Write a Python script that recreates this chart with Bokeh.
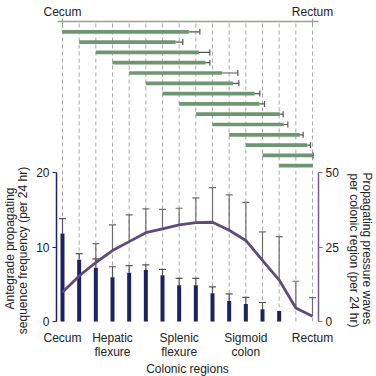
import math
from bokeh.plotting import figure
from bokeh.models import Range1d, LinearAxis, FixedTicker, Label
from bokeh.embed import file_html
from bokeh.resources import INLINE

# ---------------- data ----------------
# 16 recording regions from cecum (0) to rectum (15)
regions = list(range(16))
bottom_tick_pos = [0, 3, 7, 11, 15]
bottom_tick_labels = ["Cecum", "Hepatic\nflexure", "Splenic\nflexure", "Sigmoid\ncolon", "Rectum"]
top_tick_pos = [0, 15]
top_tick_labels = ["Cecum", "Rectum"]
left_ticks = [0, 10, 20]
right_ticks = [0, 25, 50]

# Antegrade propagating sequence frequency (per 24 hr) - bars, left axis
seq_pos = list(range(14))
seq_freq = [11.8, 8.3, 7.2, 5.95, 6.55, 6.9, 6.2, 4.85, 4.85, 3.8, 2.75, 2.35, 1.65, 1.4]
seq_freq_upper = [13.8, 9.1, 8.4, 7.35, 7.5, 7.6, 7.0, 5.8, 5.8, 4.65, 3.7, 3.25, 2.55, 1.4]

# Propagating pressure waves per colonic region (per 24 hr) - line, right axis
waves = [9.8, 15.3, 19.8, 23.8, 26.8, 29.8, 31.1, 32.4, 33.2, 33.3, 30.6, 27.2, 20.5, 13.9, 4.5, 1.8]
waves_upper = [9.8, 15.3, 26.1, 32.4, 35.8, 37.8, 37.6, 38.0, 41.5, 44.9, 42.5, 40.0, 30.1, 28.5, 13.5, 8.0]

# Extent of propagating sequences (top panel): origin region -> mean end region
ext_row = list(range(1, 15))
ext_start = list(range(14))
ext_end = [7.58, 6.78, 8.18, 8.58, 9.58, 10.24, 11.52, 11.82, 13.04, 13.27, 14.24, 14.68, 14.98, 15.0]
ext_end_upper = [8.24, 7.22, 8.84, 8.84, 10.52, 10.58, 11.84, 12.12, 13.24, 13.52, 14.44, 14.88, 15.04, 15.0]

# ---------------- layout (pixels) ----------------
W, H = 376, 376
X0_PX, X_STEP = 62.0, 16.667      # region 0 position, px per region
AX_L_PX, AX_R_PX = 56.0, 318.0    # left / right axis lines
BASE_PX, LEFT_SCALE = 321.0, 7.45 # zero line, px per unit (left axis)
RIGHT_SCALE = LEFT_SCALE * 20 / 50
TOP_PX, ROW_STEP = 21.0, 10.3     # top line, px per sequence row

def xval(px):
    return (px - X0_PX) / X_STEP

def lval(py):
    return (BASE_PX - py) / LEFT_SCALE

def rval(py):
    return (BASE_PX - py) / RIGHT_SCALE

def rowval(py):
    return (py - TOP_PX) / ROW_STEP

# ---------------- styles ----------------
FONT = "Liberation Sans"
TXT = "#222222"
NAVY = "#1c2263"
PURPLE = "#5e4b7e"
PURPLE_AX = "#6f5f8f"
GREEN = "#6f9672"
GREEN_AX = "#8ea58e"
ERR = "#555555"
ERR2 = "#6e6e6e"
DASH = "#a6a6a6"

p = figure(width=W, height=H, output_backend="svg", toolbar_location=None,
           x_axis_type=None, y_axis_type=None,
           x_range=Range1d(xval(0), xval(W)), y_range=Range1d(lval(H), lval(0)),
           min_border=0)
p.outline_line_color = None
p.background_fill_color = "white"
p.border_fill_color = "white"
p.xgrid.visible = False
p.ygrid.visible = False
p.extra_y_ranges = {"right": Range1d(rval(H), rval(0)),
                    "rows": Range1d(rowval(H), rowval(0))}

# vertical dashed region lines, from the zero line up to the top line
p.segment(x0=regions, y0=[0] * len(regions), x1=regions, y1=[lval(TOP_PX)] * len(regions),
          line_color=DASH, line_dash="4 3", line_width=1)

# axes
def style_axis(ax):
    ax.major_label_text_font = FONT
    ax.major_label_text_font_size = "12px"
    ax.major_label_text_color = TXT
    ax.minor_tick_line_color = None

top = LinearAxis(ticker=FixedTicker(ticks=top_tick_pos), fixed_location=lval(TOP_PX),
                 bounds=(xval(AX_L_PX + 1), xval(AX_R_PX)),
                 major_label_overrides=dict(zip(top_tick_pos, top_tick_labels)))
style_axis(top)
top.axis_line_color = GREEN_AX
top.axis_line_width = 1.5
top.major_tick_line_color = GREEN_AX
top.major_tick_in = 3
top.major_tick_out = 3
top.major_label_standoff = 0
p.add_layout(top, "above")

bottom = LinearAxis(ticker=FixedTicker(ticks=bottom_tick_pos), fixed_location=0,
                    major_label_overrides=dict(zip(bottom_tick_pos, bottom_tick_labels)))
style_axis(bottom)
bottom.axis_line_color = None
bottom.major_tick_line_color = None
bottom.major_tick_out = 0
bottom.major_tick_in = 0
bottom.major_label_standoff = 9
bottom.major_label_text_line_height = 1.05
p.add_layout(bottom, "below")

left = LinearAxis(ticker=FixedTicker(ticks=left_ticks), fixed_location=xval(AX_L_PX),
                  bounds=(left_ticks[0], left_ticks[-1]))
style_axis(left)
left.axis_line_color = NAVY
left.axis_line_width = 1.5
left.major_tick_line_color = NAVY
left.major_tick_in = 0
left.major_tick_out = 4
left.major_label_standoff = 3
p.add_layout(left, "left")

right = LinearAxis(y_range_name="right", ticker=FixedTicker(ticks=right_ticks),
                   fixed_location=xval(AX_R_PX), bounds=(right_ticks[0], right_ticks[-1]))
style_axis(right)
right.axis_line_color = PURPLE_AX
right.axis_line_width = 1.5
right.major_tick_line_color = "#777777"
right.major_tick_in = 0
right.major_tick_out = 4
right.major_label_standoff = 3
p.add_layout(right, "right")

# ---- top panel: extent of propagating sequences ----
p.hbar(y=ext_row, left=ext_start, right=ext_end, height=0.36, y_range_name="rows",
       fill_color=GREEN, line_color=None)
e_rows = [r for r, a, b in zip(ext_row, ext_end, ext_end_upper) if b > a]
e_a = [a for a, b in zip(ext_end, ext_end_upper) if b > a]
e_b = [b for a, b in zip(ext_end, ext_end_upper) if b > a]
p.segment(x0=e_a, y0=e_rows, x1=e_b, y1=e_rows, y_range_name="rows",
          line_color=ERR, line_width=1.2)
p.dash(x=e_b, y=e_rows, size=6, angle=math.pi / 2, y_range_name="rows",
       line_color=ERR, line_width=1.2)

# ---- bottom panel ----
w_pos = [x for x, a, b in zip(regions, waves, waves_upper) if b > a]
w_a = [a for a, b in zip(waves, waves_upper) if b > a]
w_b = [b for a, b in zip(waves, waves_upper) if b > a]
p.segment(x0=w_pos, y0=w_a, x1=w_pos, y1=w_b, y_range_name="right",
          line_color=ERR2, line_width=1.2)
p.dash(x=w_pos, y=w_b, size=7, y_range_name="right", line_color=ERR2, line_width=1.2)

p.vbar(x=seq_pos, top=seq_freq, bottom=0, width=0.24, fill_color=NAVY, line_color=None)
b_pos = [x for x, a, b in zip(seq_pos, seq_freq, seq_freq_upper) if b > a]
b_a = [a for a, b in zip(seq_freq, seq_freq_upper) if b > a]
b_b = [b for a, b in zip(seq_freq, seq_freq_upper) if b > a]
p.segment(x0=b_pos, y0=b_a, x1=b_pos, y1=b_b, line_color=ERR, line_width=1.2)
p.dash(x=b_pos, y=b_b, size=7, line_color=ERR, line_width=1.2)

p.line(x=regions, y=waves, y_range_name="right", line_color=PURPLE, line_width=2.8,
       line_join="round")

# ---- titles (screen units: from the canvas' bottom-left corner) ----
def lab(text, cx, cy, angle):
    p.add_layout(Label(text=text, x=cx, y=H - cy, x_units="screen", y_units="screen",
                       angle=angle, text_align="center", text_baseline="middle",
                       text_font=FONT, text_font_size="12px", text_color=TXT))

lab("Antegrade propagating", 9, 248, math.pi / 2)
lab("sequence frequency (per 24 hr)", 22, 250, math.pi / 2)
lab("Propagating pressure waves", 366, 248, -math.pi / 2)
lab("per colonic region (per 24 hr)", 353, 250, -math.pi / 2)
lab("Colonic regions", 187, 368, 0)

open("out.html", "w").write(file_html(p, INLINE))
